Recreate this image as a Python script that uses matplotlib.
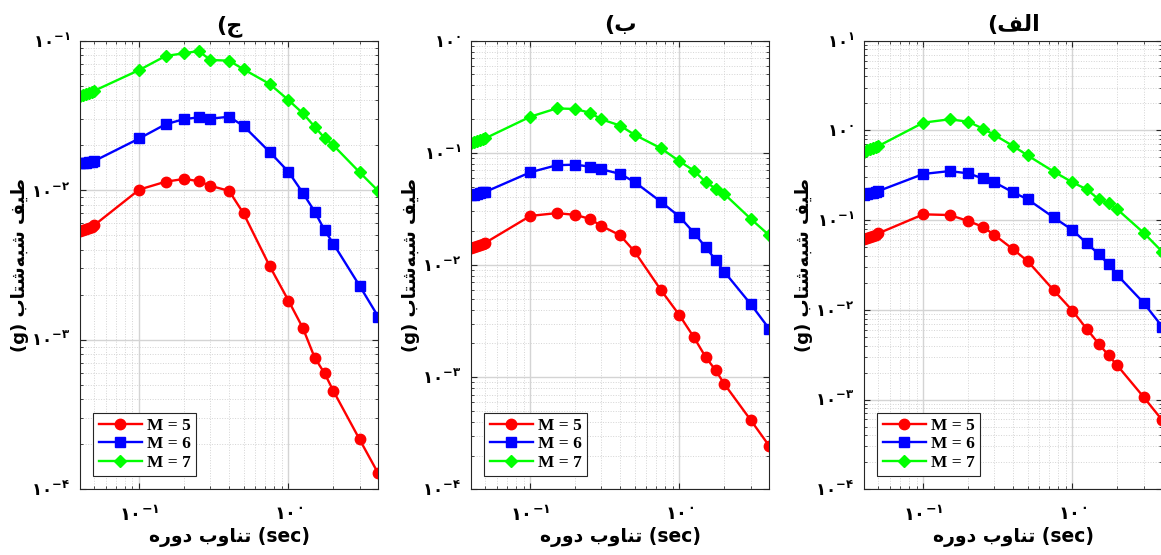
import numpy as np
import matplotlib
matplotlib.use("Agg")
import matplotlib.pyplot as plt
from matplotlib.ticker import LogLocator, FuncFormatter, NullFormatter

# periods (sec)
periods = [0.04, 0.042, 0.044, 0.046, 0.048, 0.05, 0.1, 0.15, 0.2, 0.25, 0.3,
           0.4, 0.5, 0.75, 1.0, 1.25, 1.5, 1.75, 2.0, 3.0, 4.0]

# panel "ج" (left)
j_m5 = [0.00536, 0.0054, 0.0055, 0.0056, 0.0057, 0.00585, 0.0101, 0.0114, 0.0119, 0.0115, 0.0107,
        0.0099, 0.0070, 0.0031, 0.00183, 0.0012, 0.00076, 0.000596, 0.000456, 0.000216, 0.000128]
j_m6 = [0.0151, 0.0152, 0.0153, 0.0154, 0.0155, 0.0157, 0.0222, 0.0276, 0.0299, 0.0307, 0.0301,
        0.031, 0.0269, 0.018, 0.0133, 0.0096, 0.0072, 0.0054, 0.0044, 0.0023, 0.00143]
j_m7 = [0.0427, 0.0433, 0.0441, 0.0448, 0.0455, 0.0463, 0.0637, 0.079, 0.0824, 0.0853, 0.0743,
        0.0735, 0.0644, 0.0513, 0.0401, 0.0327, 0.0266, 0.0223, 0.0200, 0.0132, 0.0099]

# panel "ب" (middle)
b_m5 = [0.0141, 0.0144, 0.0148, 0.0151, 0.0155, 0.0158, 0.0274, 0.029, 0.028, 0.0258, 0.0223,
        0.0184, 0.0132, 0.0060, 0.00357, 0.00227, 0.00151, 0.00115, 0.00087, 0.000416, 0.000244]
b_m6 = [0.0419, 0.0425, 0.0431, 0.0437, 0.0443, 0.0449, 0.0671, 0.0775, 0.0785, 0.0753, 0.0714,
        0.0649, 0.055, 0.0367, 0.027, 0.0194, 0.0144, 0.0111, 0.0087, 0.0045, 0.0027]
b_m7 = [0.1217, 0.124, 0.127, 0.13, 0.132, 0.135, 0.21, 0.249, 0.246, 0.228, 0.199,
        0.175, 0.145, 0.11, 0.0842, 0.0694, 0.055, 0.048, 0.043, 0.0259, 0.0184]

# panel "الف" (right)
a_m5 = [0.0611, 0.063, 0.065, 0.067, 0.069, 0.0713, 0.116, 0.114, 0.0977, 0.0845, 0.0683,
        0.0473, 0.035, 0.0165, 0.0098, 0.0061, 0.0042, 0.0031, 0.0024, 0.00107, 0.00059]
a_m6 = [0.191, 0.195, 0.199, 0.203, 0.207, 0.211, 0.327, 0.352, 0.332, 0.292, 0.264,
        0.204, 0.171, 0.107, 0.0776, 0.0551, 0.0419, 0.0321, 0.0244, 0.012, 0.0065]
a_m7 = [0.579, 0.6, 0.62, 0.64, 0.655, 0.67, 1.22, 1.33, 1.25, 1.05, 0.889,
        0.67, 0.527, 0.347, 0.264, 0.22, 0.171, 0.154, 0.132, 0.0724, 0.0445]

labels = ["M = 5", "M = 6", "M = 7"]
titles = ["ج", "ب", "الف"]
ylims = [(1e-4, 1e-1), (1e-4, 1e0), (1e-4, 1e1)]

# --- tiny Persian shaper: presentation forms + visual (LTR) order ---
# letter: (isolated, final, initial, medial); None => right-joining only
FORMS = {
    "ا": ("\uFE8D", "\uFE8E", None, None),
    "ب": ("\uFE8F", "\uFE90", "\uFE91", "\uFE92"),
    "ت": ("\uFE95", "\uFE96", "\uFE97", "\uFE98"),
    "ج": ("\uFE9D", "\uFE9E", "\uFE9F", "\uFEA0"),
    "د": ("\uFEA9", "\uFEAA", None, None),
    "ر": ("\uFEAD", "\uFEAE", None, None),
    "ش": ("\uFEB5", "\uFEB6", "\uFEB7", "\uFEB8"),
    "ط": ("\uFEC1", "\uFEC2", "\uFEC3", "\uFEC4"),
    "ف": ("\uFED1", "\uFED2", "\uFED3", "\uFED4"),
    "ل": ("\uFEDD", "\uFEDE", "\uFEDF", "\uFEE0"),
    "ن": ("\uFEE5", "\uFEE6", "\uFEE7", "\uFEE8"),
    "ه": ("\uFEE9", "\uFEEA", "\uFEEB", "\uFEEC"),
    "و": ("\uFEED", "\uFEEE", None, None),
    "ی": ("\uFBFC", "\uFBFD", "\uFBFE", "\uFBFF"),
}


def shape(word):
    out = []
    for i, ch in enumerate(word):
        if ch not in FORMS:
            continue
        prev = word[i - 1] if i > 0 else None
        nxt = word[i + 1] if i + 1 < len(word) else None
        join_prev = prev in FORMS and FORMS[prev][2] is not None
        join_next = nxt in FORMS and FORMS[ch][2] is not None
        iso, fin, ini, med = FORMS[ch]
        if join_prev and join_next:
            out.append(med)
        elif join_prev:
            out.append(fin)
        elif join_next:
            out.append(ini)
        else:
            out.append(iso)
    return "".join(reversed(out))


FA = str.maketrans("0123456789", "۰۱۲۳۴۵۶۷۸۹")


def fa_pow(v, pos):
    e = int(round(np.log10(v)))
    s = str(abs(e)).translate(FA)
    if e < 0:
        s = "-" + s
    return r"$\mathbf{۱۰^{%s}}$" % s


ylabel_txt = "(g) " + shape("شتاب") + shape("شبه") + " " + shape("طیف")
xlabel_txt = shape("دوره") + " " + shape("تناوب") + " (sec)"

fig = plt.figure(figsize=(11.61, 5.55), dpi=100)
lefts = [0.0689, 0.4057, 0.7442]
panels = [(j_m5, j_m6, j_m7), (b_m5, b_m6, b_m7), (a_m5, a_m6, a_m7)]

for k in range(3):
    ax = fig.add_axes([lefts[k], 0.1184, 0.2568, 0.8083])
    m5, m6, m7 = panels[k]
    ax.plot(periods, m5, "-o", color="#ff0000", lw=1.7, ms=7.5, label=labels[0])
    ax.plot(periods, m6, "-s", color="#0000ff", lw=1.7, ms=6.5, label=labels[1])
    ax.plot(periods, m7, "-D", color="#00ff00", lw=1.7, ms=6.5, label=labels[2])
    ax.set_xscale("log")
    ax.set_yscale("log")
    ax.set_xlim(0.04, 4)
    ax.set_ylim(*ylims[k])

    ax.xaxis.set_major_locator(LogLocator(base=10, numticks=10))
    ax.yaxis.set_major_locator(LogLocator(base=10, numticks=10))
    ax.xaxis.set_minor_locator(LogLocator(base=10, subs=np.arange(2, 10), numticks=20))
    ax.yaxis.set_minor_locator(LogLocator(base=10, subs=np.arange(2, 10), numticks=20))
    ax.xaxis.set_major_formatter(FuncFormatter(fa_pow))
    ax.yaxis.set_major_formatter(FuncFormatter(fa_pow))
    ax.xaxis.set_minor_formatter(NullFormatter())
    ax.yaxis.set_minor_formatter(NullFormatter())

    ax.grid(True, which="major", color="#d4d4d4", lw=1.0, ls="-")
    ax.grid(True, which="minor", color="#d4d4d4", lw=0.7, ls=":")
    ax.set_axisbelow(True)
    ax.tick_params(which="both", direction="in", top=True, right=True, color="#262626")
    ax.tick_params(axis="x", which="major", length=4, labelsize=13, pad=12)
    ax.tick_params(axis="y", which="major", length=4, labelsize=12, pad=7)
    ax.tick_params(which="minor", length=2.5)
    for sp in ax.spines.values():
        sp.set_color("#262626")
        sp.set_linewidth(0.8)

    ax.set_title("(" + shape(titles[k]), fontsize=16, fontweight="bold",
                 family="DejaVu Sans", pad=7)
    ax.set_ylabel(ylabel_txt, fontsize=13, fontweight="bold", family="DejaVu Sans")
    ax.set_xlabel(xlabel_txt, fontsize=13.5, fontweight="bold", family="DejaVu Sans")
    ax.yaxis.set_label_coords(-0.172, 0.5)
    ax.xaxis.set_label_coords(0.5, -0.085)

    leg = ax.legend(loc="lower left", bbox_to_anchor=(0.045, 0.03), borderaxespad=0,
                    prop={"family": "Liberation Serif", "weight": "bold", "size": 12.5},
                    fancybox=False, framealpha=1, edgecolor="#262626",
                    handlelength=2.5, labelspacing=0.12, borderpad=0.3, handletextpad=0.3)
    leg.get_frame().set_linewidth(0.8)

fig.savefig("out.png", dpi=100)
